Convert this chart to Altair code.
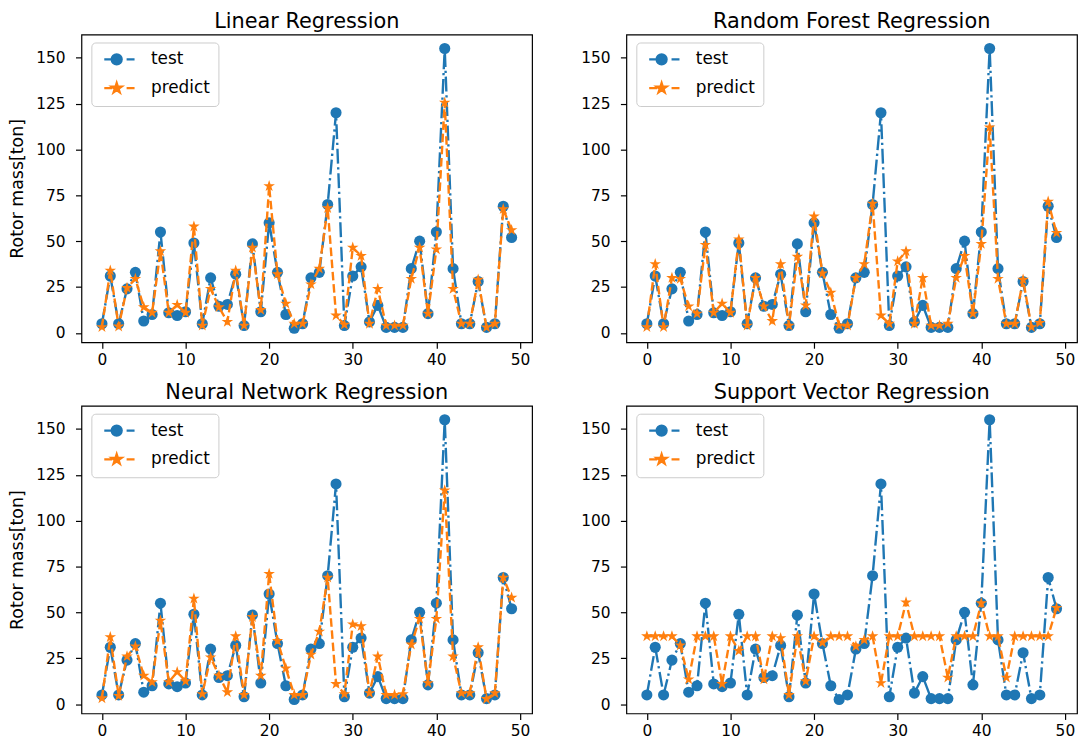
import altair as alt
import pandas as pd

# ---------------- data ----------------
idx = list(range(50))

test = [5, 31, 5, 24, 33, 6.5, 10, 55, 11, 9.5,
        11.5, 49, 5, 30, 14.5, 15.5, 32, 4, 48.5, 11.5,
        60, 33, 10, 2.5, 5, 30, 33, 70, 120, 4,
        31, 36, 6, 15, 3, 3, 3, 35, 50, 10.5,
        55, 155, 35, 5, 5, 28, 3, 5, 69, 52]

pred_linear = [3.2, 34, 3.5, 24.5, 29.5, 14, 11, 44.5, 11, 15.3,
               11, 58, 4, 24, 14, 6, 34, 4, 46.5, 12.5,
               80, 32, 16, 5, 5, 26.5, 35, 68, 9.5, 4.5,
               46.5, 42, 5, 24, 4, 4, 4, 29.5, 46.5, 10.5,
               45.5, 125.5, 24, 5, 5, 29, 3, 5, 67.5, 56]

pred_forest = [3.2, 37.5, 3.2, 30, 29.5, 14.5, 10.5, 48, 11, 16,
               11, 51, 4, 30, 14.5, 6.5, 37.5, 4, 41.5, 15,
               63.5, 32.5, 22, 4, 4, 30, 37.5, 70.5, 9.5, 5,
               39, 44.5, 5, 30, 4, 4, 5, 30, 42, 10.5,
               48.5, 112, 29.5, 5, 5, 29, 3.2, 5.5, 71.5, 54.5]

pred_neural = [3.2, 36.5, 4.5, 26, 31.5, 15.5, 12, 45.5, 12, 17.5,
               12.5, 57.5, 5.5, 25.5, 15.5, 6.5, 37, 5, 47.5, 15.5,
               71, 34.5, 19.5, 5, 5, 27, 39.5, 69, 11, 5.5,
               43.5, 42.5, 6, 26, 5, 5, 5.5, 32.5, 46.5, 11.5,
               46.5, 116.5, 26, 6, 6, 31, 2.8, 6, 69, 58]

pred_svr = [37, 37, 37, 37, 32, 13.5, 37, 37, 37, 11,
            37, 29, 37, 37, 13.5, 37, 36, 5, 37, 12.5,
            37, 33.5, 37, 37, 37, 31.5, 35, 37, 11.5, 37,
            37, 55.5, 37, 37, 37, 37, 14.5, 37, 37, 37,
            55, 37, 37, 14.5, 37, 37, 37, 37, 37, 52.5]

titles = ["Linear Regression", "Random Forest Regression",
          "Neural Network Regression", "Support Vector Regression"]
series_names = ["test", "predict"]
series_colors = ["#1f77b4", "#ff7f0e"]
x_ticks = [0, 10, 20, 30, 40, 50]
y_ticks = [0, 25, 50, 75, 100, 125, 150]
x_domain = [-2.45, 51.45]
y_domain = [-5.1, 162.6]
y_title = "Rotor mass[ton]"

# ---------------- marker shapes ----------------
STAR = ("M0,-1L0.2245,-0.309L0.9511,-0.309L0.3633,0.118L0.5878,0.809"
        "L0,0.382L-0.5878,0.809L-0.3633,0.118L-0.9511,-0.309L-0.2245,-0.309Z")
CIRCLE_P = "M1,0A1,1,0,1,1,-1,0A1,1,0,1,1,1,0Z"
LEG_LINE = "M-2.5,0H-0.9M2,0H3.6"
LEG_TEST = LEG_LINE + CIRCLE_P
LEG_PRED = LEG_LINE + STAR

W, H = 454, 310
FONT = "DejaVu Sans"
LW = 2.4


def panel(pred, title, show_ytitle):
    n = len(idx)
    df = pd.DataFrame({
        "idx": idx + idx,
        "value": test + pred,
        "series": ["test"] * n + ["predict"] * n,
    })
    base = alt.Chart(df)
    x = alt.X("idx:Q",
              scale=alt.Scale(domain=x_domain, nice=False, zero=False),
              axis=alt.Axis(values=x_ticks, labelPadding=4, tickSize=6),
              title=None)
    yaxis = alt.Axis(values=y_ticks, labelPadding=10.5, tickSize=6, titlePadding=9)
    if show_ytitle:
        y = alt.Y("value:Q", scale=alt.Scale(domain=y_domain, nice=False, zero=False),
                  axis=yaxis, title=y_title)
    else:
        y = alt.Y("value:Q", scale=alt.Scale(domain=y_domain, nice=False, zero=False),
                  axis=yaxis, title=None)

    legend = alt.Legend(
        title=None, orient="none", legendX=10, legendY=8, direction="vertical",
        fillColor="rgba(255,255,255,0.8)", strokeColor="#cccccc", cornerRadius=4,
        padding=8.5, labelFont=FONT, labelFontSize=17, labelColor="black",
        symbolSize=100, symbolStrokeWidth=LW, symbolOffset=8.5, labelOffset=26,
        rowPadding=8,
    )
    leg = base.transform_filter("false").mark_point(
        filled=True, opacity=1, strokeWidth=LW
    ).encode(
        x=x, y=y,
        color=alt.Color("series:N", scale=alt.Scale(domain=series_names, range=series_colors), legend=legend),
        stroke=alt.Stroke("series:N", scale=alt.Scale(domain=series_names, range=series_colors), legend=legend),
        shape=alt.Shape("series:N", scale=alt.Scale(domain=series_names, range=[LEG_TEST, LEG_PRED]), legend=legend),
    )

    t = base.transform_filter(alt.datum.series == "test")
    p = base.transform_filter(alt.datum.series == "predict")
    l1 = t.mark_line(color=series_colors[0], strokeWidth=LW,
                     strokeDash=[15, 3.7, 2.3, 3.7]).encode(x=x, y=y)
    m1 = t.mark_point(color=series_colors[0], filled=True, opacity=1, size=125,
                      shape="circle", strokeWidth=0).encode(x=x, y=y)
    l2 = p.mark_line(color=series_colors[1], strokeWidth=LW,
                     strokeDash=[8.6, 3.7]).encode(x=x, y=y)
    m2 = p.mark_point(color=series_colors[1], filled=True, opacity=1, size=150,
                      shape=STAR, strokeWidth=0).encode(x=x, y=y)
    return alt.layer(leg, l1, m1, l2, m2).properties(
        width=W, height=H, title=alt.Title(title)
    )


def indep(c):
    return c.resolve_scale(color="independent", stroke="independent", shape="independent") \
            .resolve_legend(color="independent", stroke="independent", shape="independent")


row1 = indep(alt.hconcat(panel(pred_linear, titles[0], True),
                         panel(pred_forest, titles[1], False), spacing=47))
row2 = indep(alt.hconcat(panel(pred_neural, titles[2], True),
                         panel(pred_svr, titles[3], False), spacing=47))

chart = indep(alt.vconcat(row1, row2, spacing=12)).properties(
    padding={"left": 0, "top": -1, "right": 0, "bottom": 0}
).configure(
    font=FONT
).configure_view(
    stroke="black", strokeWidth=1.2
).configure_axis(
    labelFont=FONT, labelFontSize=15.5, labelColor="black",
    tickColor="black", tickWidth=1.2, domain=False, grid=False,
    titleFont=FONT, titleFontSize=17.5, titleFontWeight="normal", titleColor="black",
).configure_title(
    font=FONT, fontSize=21, fontWeight="normal", color="black", offset=3, anchor="middle"
)

chart.save("out.html", embed_options={"renderer": "svg", "actions": False})
